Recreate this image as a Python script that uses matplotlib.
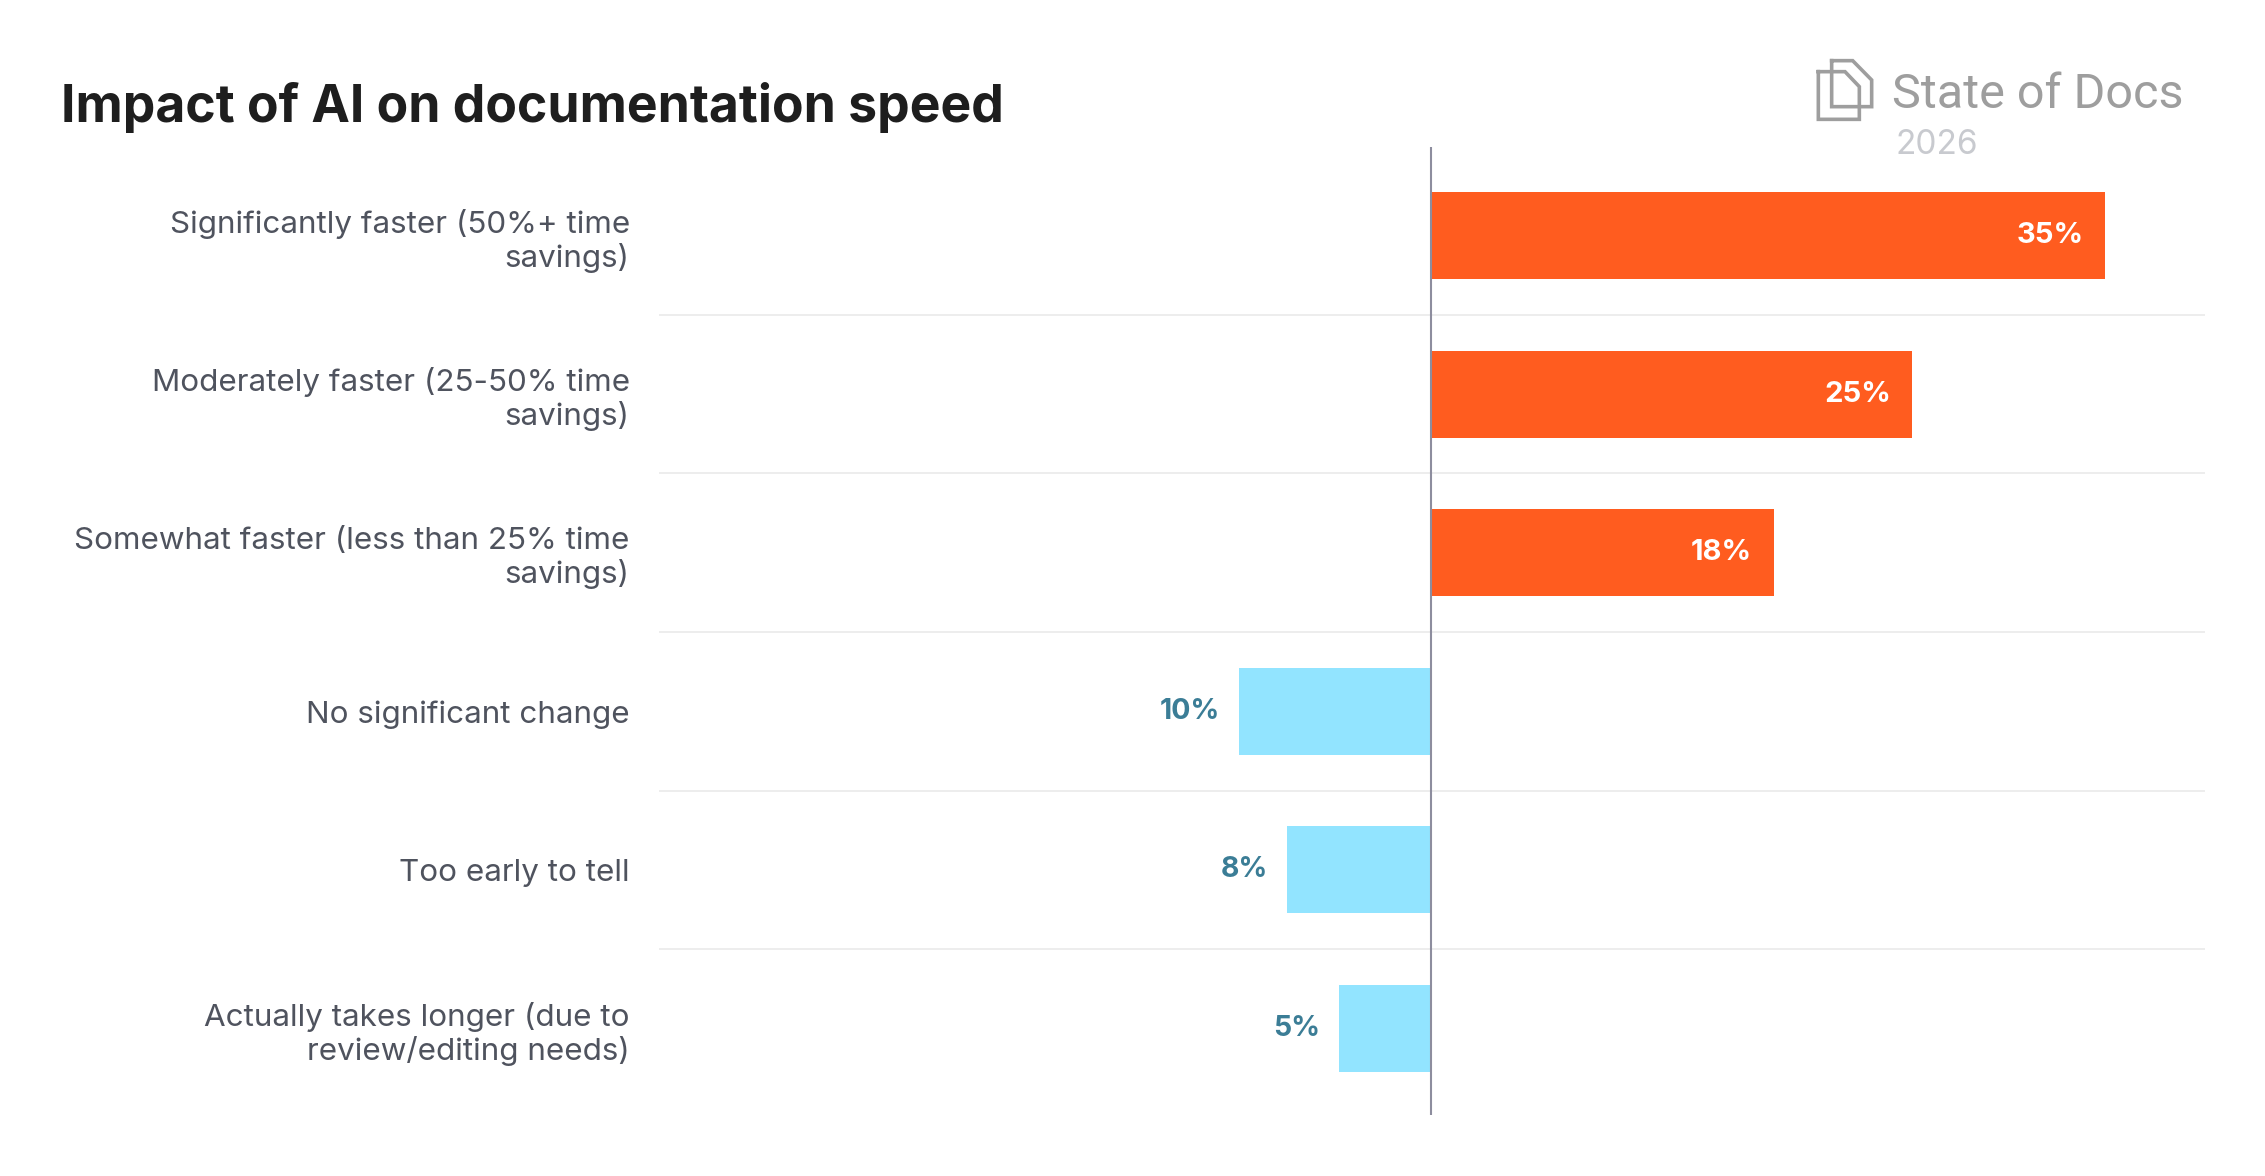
import matplotlib
matplotlib.use("Agg")
import matplotlib.pyplot as plt
from matplotlib.lines import Line2D
from matplotlib.transforms import Affine2D

W, H = 2265, 1176
title = "Impact of AI on documentation speed"
categories = [
    "Significantly faster (50%+ time\nsavings)",
    "Moderately faster (25-50% time\nsavings)",
    "Somewhat faster (less than 25% time\nsavings)",
    "No significant change",
    "Too early to tell",
    "Actually takes longer (due to\nreview/editing needs)",
]
faster_values = [35, 25, 17.8, 0, 0, 0]
other_values = [0, 0, 0, 10, 7.5, 4.8]

ORANGE = "#FF5C1F"
BLUE = "#92E4FF"
TEAL = "#3B7D96"
plt.rcParams["font.family"] = ["Inter", "DejaVu Sans"]

fig = plt.figure(figsize=(W / 100, H / 100), dpi=100, facecolor="white")
ax = fig.add_axes([659 / W, 1 - 1115 / H, (2205 - 659) / W, (1115 - 147) / H])
ax.set_xlim(-40.1, 40.2)
ax.set_ylim(5.545, -0.558)

ypos = list(range(len(categories)))
for i, (a, b) in enumerate(zip(faster_values, other_values)):
    if a:
        ax.barh(i, a, height=0.5485, color=ORANGE, zorder=2)
        ax.annotate(f"{a:.0f}%", (a, i), xytext=(-15.5, 0), textcoords="offset points",
                    ha="right", va="center", color="white", fontsize=21, fontweight="bold")
    else:
        ax.barh(i, -b, height=0.5485, color=BLUE, zorder=2)
        ax.annotate(f"{b:.0f}%", (-b, i), xytext=(-13.5, 0), textcoords="offset points",
                    ha="right", va="center", color=TEAL, fontsize=20.5, fontweight="bold")

ax.hlines([i + 0.5 for i in ypos[:-1]], -40.1, 40.2, color="#E8E8E8", lw=1.1, zorder=1)
ax.axvline(0, color="#8D8D9E", lw=1.5, zorder=3)
for s in ax.spines.values():
    s.set_visible(False)
ax.set_xticks([])
ax.set_yticks(ypos)
ax.set_yticklabels(categories, fontsize=22.6, color="#4F535E", linespacing=1.18)
ax.tick_params(axis="y", length=0, pad=21)

fig.text(61 / W, 1 - 122 / H, title, fontsize=37.2, fontweight="bold", color="#1E1E1E",
         ha="left", va="baseline")
fig.text(1892 / W, 1 - 108 / H, "State of Docs", fontsize=35, color="#9E9E9E",
         ha="left", va="baseline", family=["Roboto", "DejaVu Sans"])
fig.text(1896 / W, 1 - 154 / H, "2026", fontsize=24, color="#C8CACF",
         ha="left", va="baseline")

# logo outline, in zoomed-crop units mapped to figure pixels
to_fig = Affine2D().scale(1 / 3).translate(1780, 30).scale(1, -1).translate(0, H).scale(1 / W, 1 / H) + fig.transFigure
back_page = ([155, 218, 275, 275, 155, 155], [92, 92, 150, 230, 230, 92])
front_page = ([115, 195, 238, 238, 115, 115], [125, 125, 170, 268, 268, 125])
for xs, ys in (back_page, front_page):
    fig.add_artist(Line2D(xs, ys, transform=to_fig, color="#9E9E9E", lw=2.6, solid_joinstyle="miter"))

fig.savefig("out.png", dpi=100, facecolor="white")
